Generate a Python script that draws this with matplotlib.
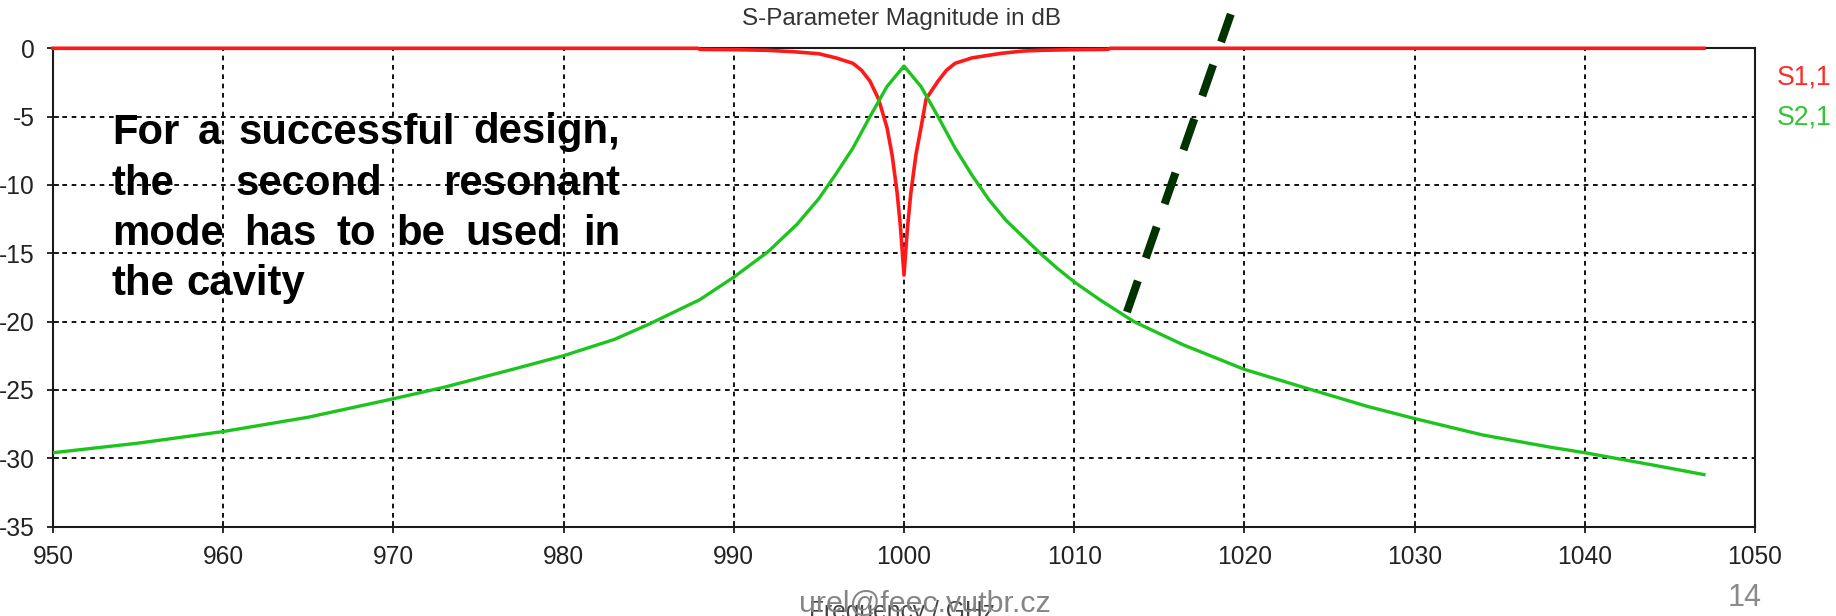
import matplotlib
matplotlib.use("Agg")
import matplotlib.pyplot as plt
from matplotlib import font_manager

# ---------------- data ----------------
title = "S-Parameter Magnitude in dB"
x_label = "Frequency / GHz"
series_names = ["S1,1", "S2,1"]

freq_s11 = [950, 960, 970, 980, 987.9, 988, 990, 992, 993.5, 995, 996, 997, 997.5,
            998, 998.5, 999, 999.3, 999.6, 999.8, 1000, 1000.2, 1000.4, 1000.7, 1001,
            1001.3, 1002, 1002.5, 1003, 1004, 1005.7, 1007, 1008, 1010, 1012, 1012.1,
            1020, 1030, 1040, 1047]
s11_db = [0.0, 0.0, 0.0, 0.0, 0.0, -0.08, -0.1, -0.15, -0.25, -0.4, -0.7, -1.1, -1.6,
          -2.4, -3.7, -5.8, -7.8, -10.6, -13.2, -16.6, -13.2, -10.6, -7.8, -5.8,
          -3.7, -2.4, -1.6, -1.1, -0.7, -0.37, -0.2, -0.15, -0.1, -0.08, 0.0,
          0.0, 0.0, 0.0, 0.0]

freq_s21 = [950, 955, 960, 965, 970, 973, 977, 980, 983, 985, 988, 990, 992, 993.7,
            995, 996, 997, 998, 999, 1000, 1001, 1002, 1003, 1004, 1005, 1006, 1007,
            1008, 1009, 1010, 1011.5, 1013.5, 1016.4, 1020, 1023.7, 1027.2, 1030, 1034,
            1038, 1040, 1044, 1047]
s21_db = [-29.6, -28.9, -28.05, -27.0, -25.65, -24.8, -23.5, -22.5, -21.3, -20.2,
          -18.4, -16.75, -14.9, -12.9, -11.0, -9.2, -7.3, -5.0, -2.8, -1.3, -2.8,
          -5.0, -7.3, -9.3, -11.1, -12.6, -13.8, -15.0, -16.1, -17.1, -18.4, -20.0,
          -21.7, -23.5, -24.9, -26.2, -27.1, -28.3, -29.2, -29.6, -30.5, -31.2]

x_ticks = [950, 960, 970, 980, 990, 1000, 1010, 1020, 1030, 1040, 1050]
y_ticks = [0, -5, -10, -15, -20, -25, -30, -35]

# annotation (dashed pointer) end points in data units
pointer_freq = [1013.1, 1019.2]
pointer_db = [-19.3, 2.5]

note_lines = [["For", "a", "successful", "design,"],
              ["the", "second", "resonant"],
              ["mode", "has", "to", "be", "used", "in"],
              ["the", "cavity"]]
footer_mail = "urel@feec.vutbr.cz"
page_no = "14"

# ---------------- fonts ----------------
names = {f.name for f in font_manager.fontManager.ttflist}
if "Liberation Sans Narrow" in names:
    small_font = ["Liberation Sans Narrow", "DejaVu Sans"]
    fs_scale = 1.12
else:
    small_font = ["Liberation Sans", "DejaVu Sans"]
    fs_scale = 0.96
sans = ["Liberation Sans", "DejaVu Sans"]

# ---------------- figure ----------------
W, H = 1836, 616
DPI = 100
fig = plt.figure(figsize=(W / DPI, H / DPI), dpi=DPI)
fig.patch.set_facecolor("white")

ax_l, ax_r, ax_t, ax_b = 53, 1755, 48.3, 526.5
ax = fig.add_axes([ax_l / W, 1 - ax_b / H, (ax_r - ax_l) / W, (ax_b - ax_t) / H])

red = "#ff1a1a"
green = "#1ec41e"

ax.plot(freq_s11, s11_db, color=red, lw=2.6, clip_on=False, zorder=4,
        solid_joinstyle="round")
ax.plot(freq_s21, s21_db, color=green, lw=2.4, zorder=5, solid_joinstyle="round")

ax.set_xlim(950, 1050)
ax.set_ylim(-35, 0)
ax.set_xticks(x_ticks)
ax.set_yticks(y_ticks)
ax.set_xticklabels([str(v) for v in x_ticks])
ax.set_yticklabels([str(v) for v in y_ticks])

for v in x_ticks[1:-1]:
    ax.axvline(v, color="#111111", lw=1.4, ls=(0, (2.4, 2.4)), zorder=1)
for v in y_ticks[1:-1]:
    ax.axhline(v, color="#111111", lw=1.4, ls=(0, (2.4, 2.4)), zorder=1)

for s in ax.spines.values():
    s.set_color("#1a1a1a")
    s.set_linewidth(1.5)

ax.tick_params(axis="both", direction="inout", length=9, width=1.3, color="#1a1a1a",
               labelcolor="#222222")
ax.tick_params(axis="x", pad=9)
ax.tick_params(axis="y", pad=9)
for lab in ax.get_xticklabels() + ax.get_yticklabels():
    lab.set_family(small_font)
    lab.set_fontsize(18.5 * fs_scale)

# dashed pointer
ax.plot(pointer_freq, pointer_db, color="#003300", lw=5.8, dashes=(4.1, 3.0),
        clip_on=False, zorder=6, dash_capstyle="butt")

def px(x, y):
    return x / W, 1 - y / H

# title
fig.text(*px(902, 19), title, ha="center", va="center", fontsize=17.5,
         family=sans, color="#333333")

# legend labels
fig.text(*px(1777, 77), series_names[0], ha="left", va="center",
         fontsize=20 * fs_scale, family=small_font, color="#ff2a2a")
fig.text(*px(1777, 118), series_names[1], ha="left", va="center",
         fontsize=20 * fs_scale, family=small_font, color="#33c433")

# axis label (partly cut at the bottom)
fig.text(*px(902, 619.5), x_label, ha="center", va="baseline",
         fontsize=18.5 * fs_scale, family=small_font, color="#444444")

# footer
fig.text(*px(925, 611.5), footer_mail, ha="center", va="baseline", fontsize=21.9,
         family=sans, color="#858585", zorder=10)
fig.text(*px(1745, 598), page_no, ha="center", va="center", fontsize=22,
         family=sans, color="#8a8a8a")

# justified bold note
fig.canvas.draw()
rend = fig.canvas.get_renderer()
left_px, right_px = 112, 620
baselines = [143.5, 195, 245, 295]
note_fs = 30.2
for li, words in enumerate(note_lines):
    texts = [fig.text(0, 0, w, fontsize=note_fs, fontweight="bold",
                      family=sans, color="black",
                      va="baseline", ha="left", zorder=20) for w in words]
    widths = [t.get_window_extent(rend).width for t in texts]
    justify = li < len(note_lines) - 1
    if justify and len(words) > 1:
        gap = (right_px - left_px - sum(widths)) / (len(words) - 1)
    else:
        gap = 0.278 * note_fs * DPI / 72
    x = left_px
    for t, w in zip(texts, widths):
        t.set_position(px(x, baselines[li]))
        x += w + gap

fig.savefig("out.png", dpi=DPI, facecolor="white")
